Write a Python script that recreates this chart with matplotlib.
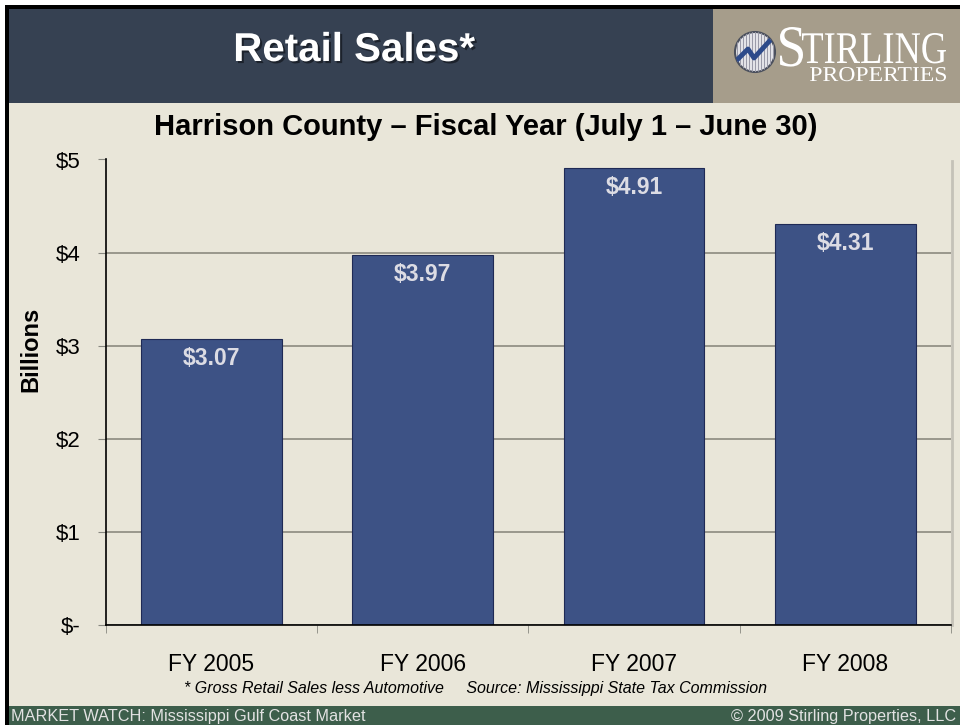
import numpy as np
import matplotlib
matplotlib.use("Agg")
import matplotlib.pyplot as plt
from matplotlib.patches import Rectangle, Circle, PathPatch
from matplotlib.textpath import TextPath
from matplotlib.font_manager import FontProperties
from matplotlib.transforms import Affine2D
import matplotlib.patheffects as pe

plt.rcParams['font.family'] = ['Liberation Sans', 'DejaVu Sans']

# Data
years = ["FY 2005", "FY 2006", "FY 2007", "FY 2008"]
sales = [3.07, 3.97, 4.91, 4.31]
bar_labels = ["$3.07", "$3.97", "$4.91", "$4.31"]
y_ticks = [0, 1, 2, 3, 4, 5]
y_tick_labels = ["$-", "$1", "$2", "$3", "$4", "$5"]

W, H = 960, 725
bg = "#E9E6D9"
header_col = "#364152"
tan = "#A69D8B"
footer_col = "#3D5E4B"
bar_col = "#3D5285"

fig = plt.figure(figsize=(W / 100, H / 100), dpi=100)
fig.patch.set_facecolor("white")

# decoration layer in pixel coordinates
deco = fig.add_axes([0, 0, 1, 1])
deco.set_xlim(0, W)
deco.set_ylim(H, 0)
deco.axis("off")

deco.add_patch(Rectangle((5, 5), W - 5, H - 5, facecolor="black", edgecolor="none"))
deco.add_patch(Rectangle((9, 9), W - 9, H - 9, facecolor=bg, edgecolor="none"))
deco.add_patch(Rectangle((9, 9), 704, 94, facecolor=header_col, edgecolor="none"))
deco.add_patch(Rectangle((713, 9), W - 713, 94, facecolor=tan, edgecolor="none"))
deco.add_patch(Rectangle((9, 706), W - 9, H - 706, facecolor=footer_col, edgecolor="none"))

# title
deco.text(354, 50, "Retail Sales*", color="white", fontsize=29, fontweight="bold",
          ha="center", va="center",
          path_effects=[pe.withSimplePatchShadow(offset=(1.5, -1.5), shadow_rgbFace="#1a1f28", alpha=0.9)])


def boxed_text(s, x0, x1, ytop, ybase, family="Liberation Serif"):
    # text squeezed into a pixel box (condensed logo lettering)
    tp = TextPath((0, 0), s, size=1, prop=FontProperties(family=family))
    bb = tp.get_extents()
    sx = (x1 - x0) / bb.width
    sy = (ybase - ytop) / (bb.y1 - 0)
    tr = Affine2D().translate(-bb.x0, 0).scale(sx, -sy).translate(x0, ybase)
    deco.add_patch(PathPatch(tp, transform=tr + deco.transData, facecolor="white",
                             edgecolor="none"))


# logo
cx, cy, r = 755, 52, 20
circ = Circle((cx, cy), r, facecolor="#e8e8ec", edgecolor="#4a4f5c", lw=1.5, zorder=2)
deco.add_patch(circ)
for k in range(-r + 2, r, 3):
    ln, = deco.plot([cx + k, cx + k], [cy - r, cy + r], color="#9a9aa8", lw=0.8, zorder=3)
    ln.set_clip_path(circ)
zig, = deco.plot([cx - r, cx - 7, cx - 1, cx + r], [cy + 10, cy - 3, cy + 6, cy - 17],
                 color="#2d4a8a", lw=3.5, solid_capstyle="butt", zorder=4)
zig.set_clip_path(circ)
boxed_text("S", 780, 803, 27, 66)
boxed_text("TIRLING", 802, 946, 33, 63)
boxed_text("PROPERTIES", 810, 946, 67, 81)

# subtitle
deco.text(486, 127, "Harrison County \u2013 Fiscal Year (July 1 \u2013 June 30)",
          fontsize=21, fontweight="bold", ha="center", va="center", color="black")

# y label
deco.text(31, 349, "Billions", fontsize=17, fontweight="bold", rotation=90,
          ha="center", va="center", color="black")

# footnote
deco.text(476, 689, "* Gross Retail Sales less Automotive     Source: Mississippi State Tax Commission",
          fontsize=11.5, style="italic", ha="center", va="center", color="black")

# footer
deco.text(11, 716, "MARKET WATCH: Mississippi Gulf Coast Market", fontsize=11.7,
          color="#e2e2e2", ha="left", va="center")
deco.text(956, 716, "\u00a9 2009 Stirling Properties, LLC", fontsize=11.7,
          color="#e2e2e2", ha="right", va="center")

# plot area shadow
deco.plot([952, 952], [161, 625], color="#c4c2b8", lw=2)

# main chart
left, right, top, bottom = 105.7, 951, 159.5, 625
ax = fig.add_axes([left / W, (H - bottom) / H, (right - left) / W, (bottom - top) / H])
ax.set_facecolor(bg)
x = np.arange(len(years))
bars = ax.bar(x, sales, width=0.667, color=bar_col, edgecolor="#1f2a55", linewidth=0.8, zorder=3)
for b, lab in zip(bars, bar_labels):
    ax.annotate(lab, (b.get_x() + b.get_width() / 2, b.get_height()),
                xytext=(0, -14), textcoords="offset points", ha="center", va="center",
                fontsize=16.5, fontweight="bold", color="#dcdce4", zorder=4)

ax.set_xlim(-0.5, len(years) - 0.5)
ax.set_ylim(0, 5)
ax.set_yticks(y_ticks)
ax.set_yticklabels(y_tick_labels, fontsize=16)
ax.set_xticks(x)
ax.set_xticklabels(years, fontsize=16.5)
ax.set_xticks(np.arange(-0.5, len(years), 1), minor=True)
ax.tick_params(axis="x", which="major", length=0, pad=20)
ax.tick_params(axis="x", which="minor", length=6, color="#888880", direction="out")
ax.tick_params(axis="y", length=6, color="#888880", direction="out", pad=12)
ax.grid(axis="y", color="#8c8a80", lw=1.2, zorder=1)
for s in ["top", "right"]:
    ax.spines[s].set_visible(False)
ax.spines["left"].set_color("black")
ax.spines["bottom"].set_color("black")
ax.spines["left"].set_linewidth(1.2)
ax.spines["bottom"].set_linewidth(1.2)
ax.spines["bottom"].set_zorder(5)

fig.savefig("out.png", dpi=100, facecolor=fig.get_facecolor())
